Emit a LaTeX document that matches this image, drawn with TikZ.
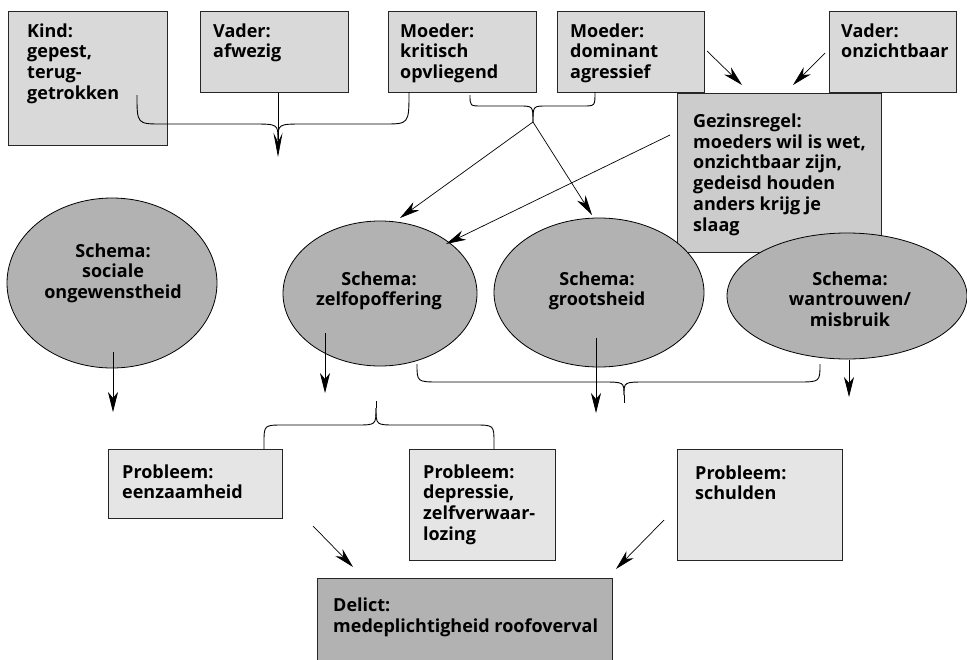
\documentclass[tikz,border=0pt]{standalone}
\usepackage{fontspec}
\setmainfont{Open Sans}
\usetikzlibrary{arrows.meta,calc,positioning,shapes.geometric}
\tikzset{
	box/.style={draw=black!85,line width=1.1pt,inner sep=0pt,anchor=north west},
	oudersbox/.style={box,fill=black!15},
	regelbox/.style={box,fill=black!20},
	probleembox/.style={box,fill=black!10},
	delictbox/.style={box,fill=black!30},
	schema/.style={ellipse,draw=black,line width=0.8pt,fill=black!30,inner sep=0pt},
	% base anker = laatste regel, dus omlaag schuiven
	regels/.style={yshift={-(#1-1)*20.8pt}},
	tekst/.style={inner sep=0pt,align=left,anchor=base west,font=\fontsize{18}{20.8}\selectfont\bfseries},
	schematekst/.style={tekst,align=center,anchor=base},
	pijl/.style={draw,line width=0.7pt,-{Stealth[length=20pt,width=10pt,inset=6pt]}},
	lijn/.style={draw,line width=0.9pt}
}
\begin{document}
\begin{tikzpicture}[x=1pt,y=-1pt]
   \clip (0,0) rectangle (967,659);
   % gezin van herkomst
   \node[oudersbox,minimum width=159,minimum height=134] (kind) at (8,11) {};
   \node[oudersbox,minimum width=148,minimum height=81] (vader1) at (200,11) {};
   \node[oudersbox,minimum width=148,minimum height=81] (moeder1) at (388,11) {};
   \node[oudersbox,minimum width=147,minimum height=81] (moeder2) at (557,11) {};
   \node[oudersbox,minimum width=127,minimum height=81] (vader2) at (829,11) {};
   \node[regelbox,minimum width=204,minimum height=159] (regel) at (677,93) {};
   \node[tekst,regels=4] (kindt) at (27,37) {Kind:\\gepest,\\terug-\\getrokken};
   \node[tekst,regels=2] (vader1t) at (213,37) {Vader:\\afwezig};
   \node[tekst,regels=3] (moeder1t) at (400,37) {Moeder:\\kritisch\\opvliegend};
   \node[tekst,regels=3] (moeder2t) at (570,37) {Moeder:\\dominant\\agressief};
   \node[tekst,regels=2] (vader2t) at (841,37) {Vader:\\onzichtbaar};
   \node[tekst,regels=6] (regelt) at (693,127.3) {Gezinsregel:\\moeders wil is wet,\\onzichtbaar zijn,\\gedeisd houden\\anders krijg je\\slaag};
   % schema's
   \node[schema,minimum width=210,minimum height=170] (sociale) at (112,283) {};
   \node[schema,minimum width=194,minimum height=145] (zelf) at (380,293.5) {};
   \node[schema,minimum width=210,minimum height=149] (groot) at (599,292.5) {};
   \node[schema,minimum width=240,minimum height=126] (wantrouwen) at (847,296) {};
   \node[schematekst,regels=3] (socialet) at (113,257) {Schema:\\sociale\\ongewenstheid};
   \node[schematekst,regels=2] (zelft) at (379,285) {Schema:\\zelfopoffering};
   \node[schematekst,regels=2] (groott) at (597,285) {Schema:\\grootsheid};
   \node[schematekst,regels=3] (wantrouwent) at (850,285) {Schema:\\wantrouwen/\\misbruik};
   % problemen en delict
   \node[probleembox,minimum width=174,minimum height=69] (eenzaam) at (108,449) {};
   \node[probleembox,minimum width=146,minimum height=111] (depressie) at (409,449) {};
   \node[probleembox,minimum width=165,minimum height=111] (schulden) at (677,449) {};
   \node[delictbox,minimum width=295,minimum height=90] (delict) at (317,578) {};
   \node[tekst,regels=2] (eenzaamt) at (122,478) {Probleem:\\eenzaamheid};
   \node[tekst,regels=4] (depressiet) at (423,478) {Probleem:\\depressie,\\zelfverwaar-\\lozing};
   \node[tekst,regels=2] (schuldent) at (695,479) {Probleem:\\schulden};
   \node[tekst,regels=2] (delictt) at (333,611.7) {Delict:\\medeplichtigheid roofoverval};
   % accolades
   \coordinate (kindeind) at (137,95);
   \coordinate (moeder1eind) at (409,92);
   \coordinate (puntA) at (278,140);
   \coordinate (vader1pijl) at (278,157);
   \draw[lijn] (kindeind) .. controls (137,124) .. (162,124) -- (252,124) .. controls (278,124) .. (puntA);
   \draw[lijn] (moeder1eind) .. controls (409,124) .. (384,124) -- (304,124) .. controls (278,124) .. (puntA);
   \draw[pijl,-{Stealth[length=24pt,width=9pt,inset=9pt]}] (vader1.south -| vader1pijl) -- (vader1pijl);
   \coordinate (moeder1eind2) at (470,95);
   \coordinate (moeder2eind) at (595,92);
   \coordinate (puntB) at (533,122);
   \draw[lijn] (moeder1eind2) .. controls (470,106) .. (482,106) -- (519,106) .. controls (533,106) .. (puntB);
   \draw[lijn] (moeder2eind) .. controls (595,106) .. (583,106) -- (547,106) .. controls (533,106) .. (puntB);
   \coordinate (zelfeind) at (417,364);
   \coordinate (wantrouweneind) at (820,364);
   \coordinate (puntC) at (624,395);
   \draw[lijn] (zelfeind) .. controls (417,382) .. (440,382) -- (602,382) .. controls (624,382) .. (puntC);
   \draw[lijn] (wantrouweneind) .. controls (820,382) .. (797,382) -- (646,382) .. controls (624,382) .. (puntC);
   \draw[lijn] (puntC) -- (624,403);
   \coordinate (puntD) at (376,408);
   \draw[lijn] (376,401) -- (puntD);
   \draw[lijn] (puntD) .. controls (376,425) .. (356,425) -- (284,425) .. controls (264,425) .. (264,443) -- (eenzaam.north -| 264,0);
   \draw[lijn] (puntD) .. controls (376,425) .. (396,425) -- (474,425) .. controls (494,425) .. (494,443) -- (depressie.north -| 494,0);
   % pijlen
   \coordinate (moeder2start) at (707,51);
   \coordinate (moeder2pijl) at (742,85);
   \coordinate (vader2start) at (825,53);
   \coordinate (vader2pijl) at (793,85);
   \draw[pijl] (moeder2start) -- (moeder2pijl);
   \draw[pijl] (vader2start) -- (vader2pijl);
   \coordinate (zelfpijl) at (400,218);
   \coordinate (grootpijl) at (592,215);
   \coordinate (regelstart) at (670,135);
   \coordinate (zelfpijl2) at (446,244);
   \draw[pijl] (puntB) -- (zelfpijl);
   \draw[pijl] (puntB) -- (grootpijl);
   \draw[pijl] (regelstart) -- (zelfpijl2);
   \draw[pijl] (113,352) -- (113,412);
   \draw[pijl] (325,333) -- (325,393);
   \draw[pijl] (596,338) -- (596,413);
   \draw[pijl] (849,360) -- (849,397);
   \coordinate (eenzaamstart) at (313,526);
   \coordinate (delictpijl1) at (353,567);
   \coordinate (schuldenstart) at (664,520);
   \coordinate (delictpijl2) at (616,569);
   \draw[pijl] (eenzaamstart) -- (delictpijl1);
   \draw[pijl] (schuldenstart) -- (delictpijl2);
\end{tikzpicture}
\end{document}
